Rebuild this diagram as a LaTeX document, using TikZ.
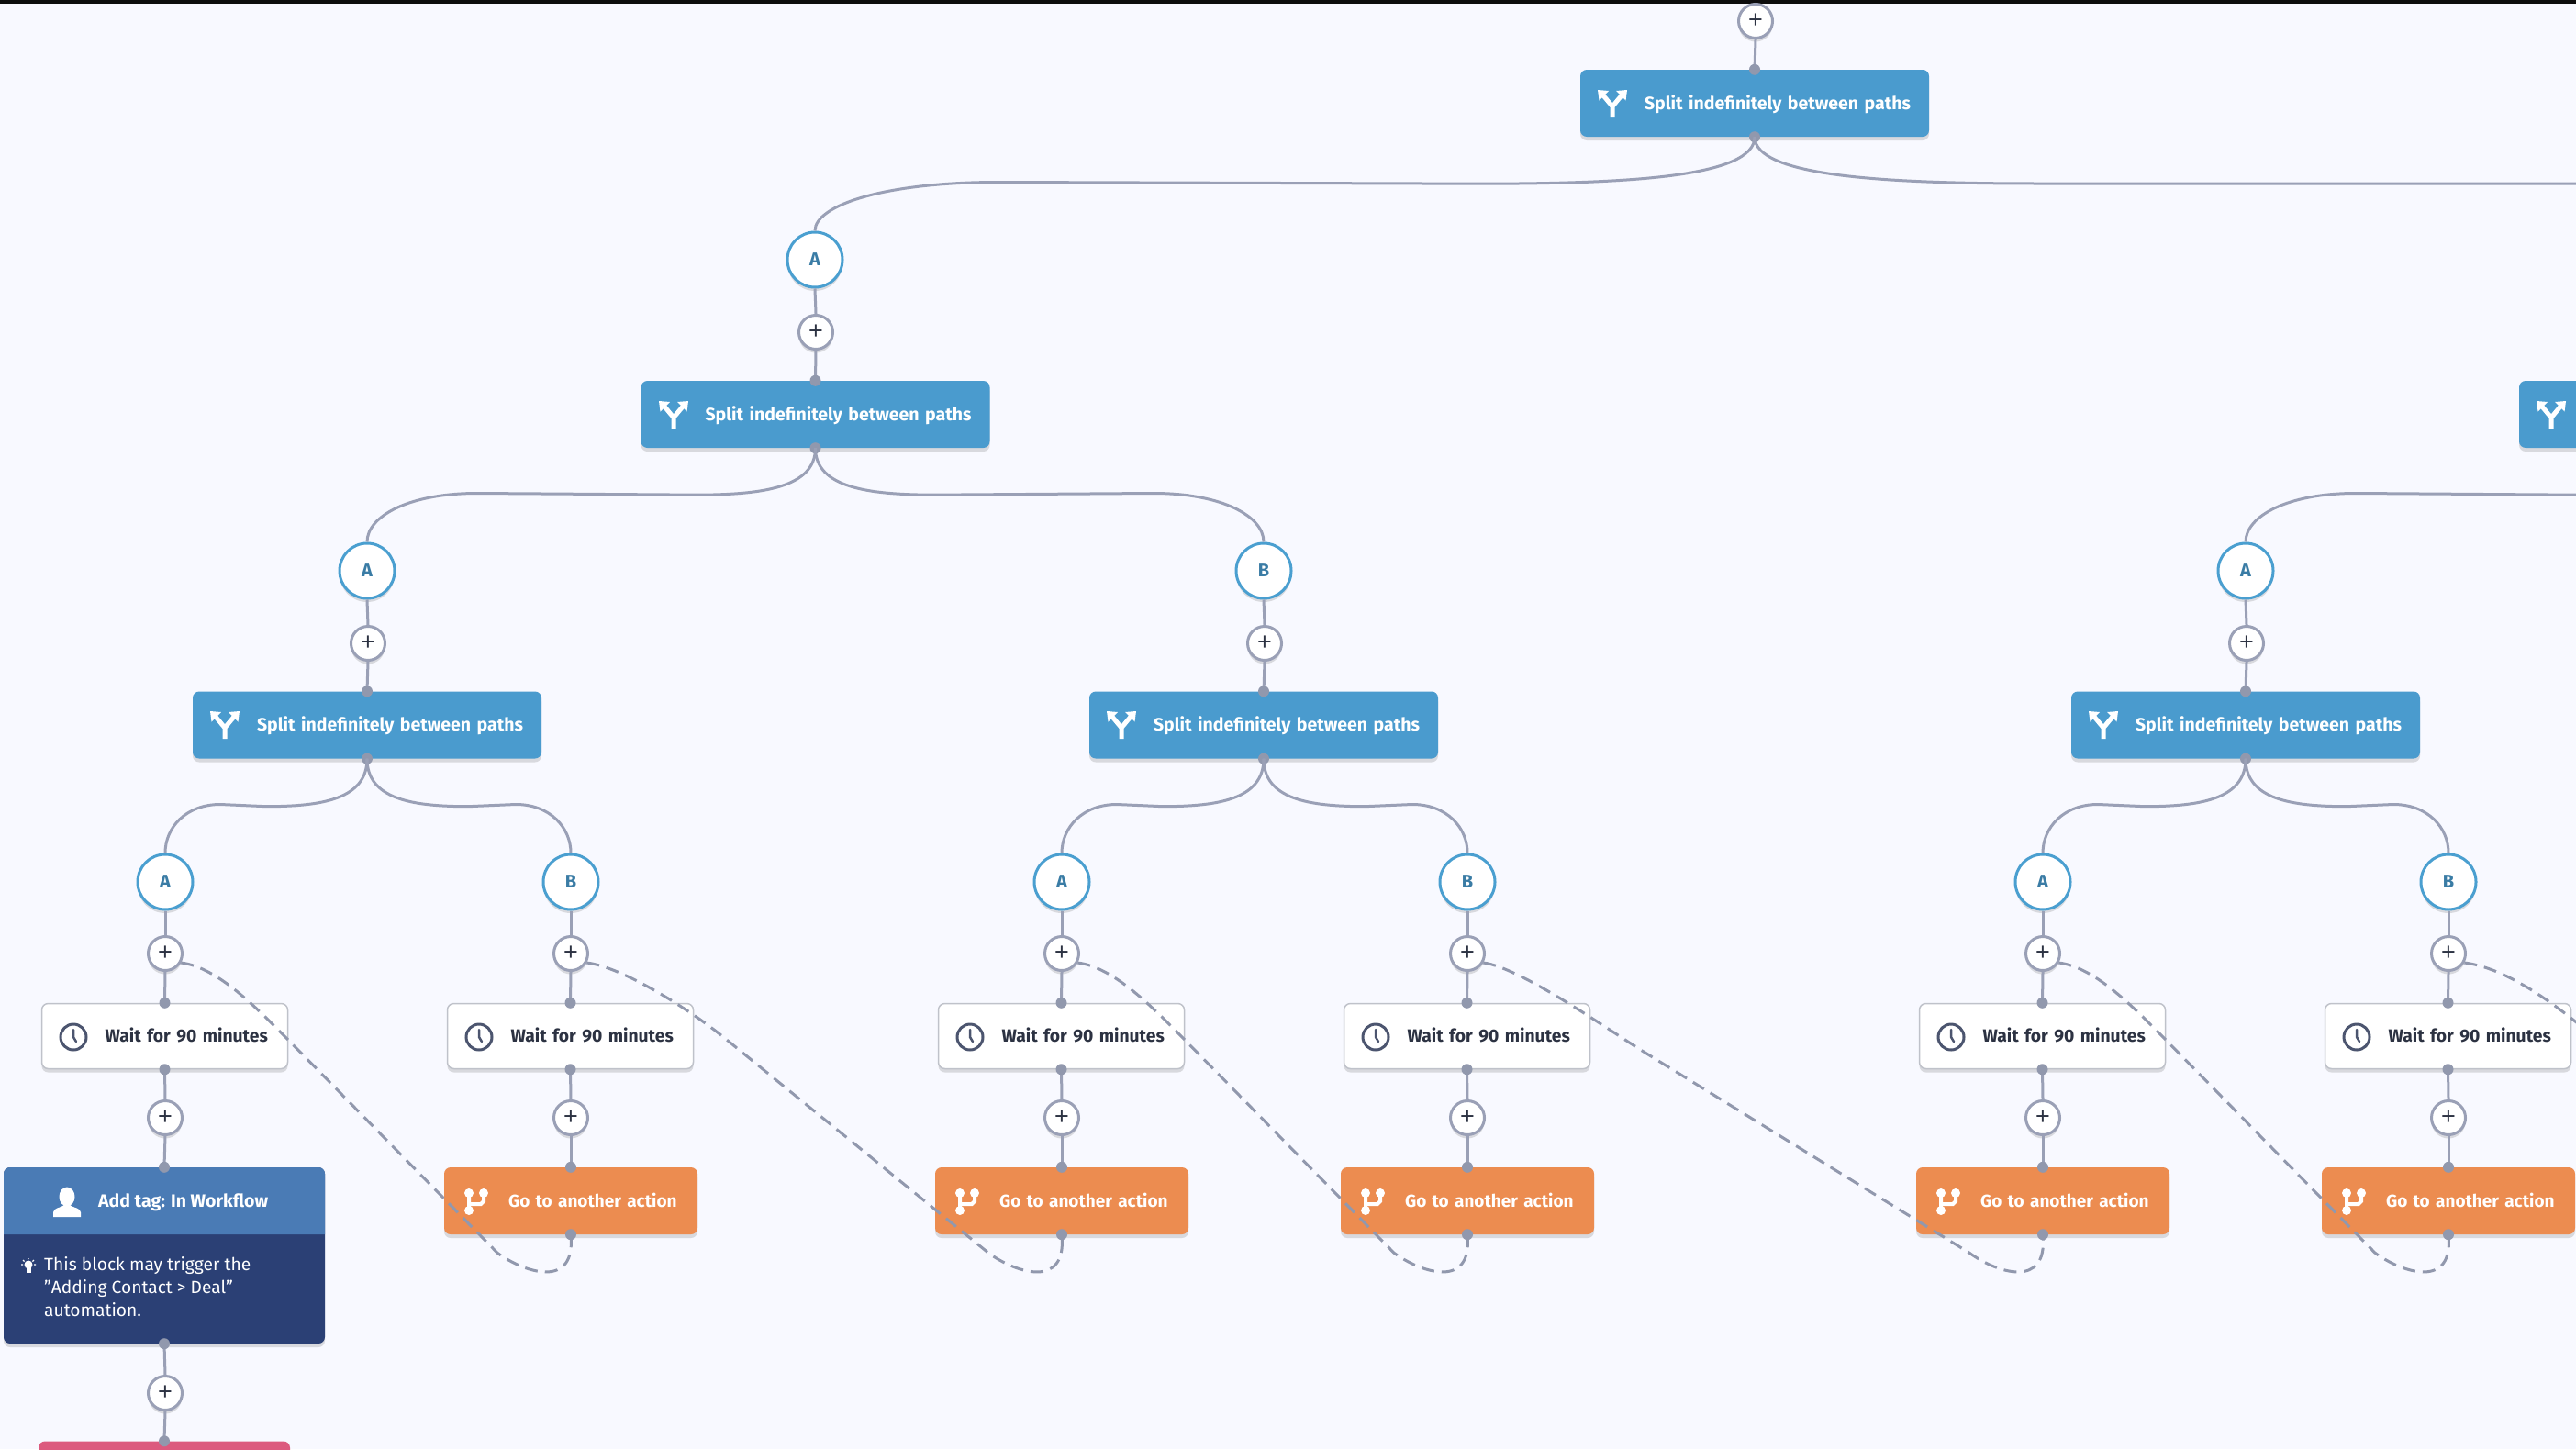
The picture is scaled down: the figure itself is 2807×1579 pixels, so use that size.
\documentclass[tikz,border=0pt]{standalone}
\usepackage{fontspec}
\setmainfont{Fira Sans}
\newfontfamily\plusfont{Liberation Sans}
\usetikzlibrary{shadows,calc}
\definecolor{bgc}{HTML}{F8F9FF}
\definecolor{linec}{HTML}{9AA0B6}
\definecolor{dotc}{HTML}{9198AD}
\definecolor{splitc}{HTML}{4A9BCE}
\definecolor{orangec}{HTML}{EC8C50}
\definecolor{hdrc}{HTML}{4A7BB5}
\definecolor{bodyc}{HTML}{2B4075}
\definecolor{pinkc}{HTML}{DC5A7E}
\definecolor{ringc}{HTML}{4A9FD0}
\definecolor{letterc}{HTML}{3A7CA5}
\definecolor{inkc}{HTML}{2C3242}
\definecolor{iconc}{HTML}{4C556F}
\definecolor{edgec}{HTML}{BFC2CA}
\tikzset{
  softshadow/.style={drop shadow={shadow xshift=0pt,shadow yshift=-4pt,opacity=.18,fill=black!70}},
  boxbase/.style={rectangle,rounded corners=7pt,minimum height=73pt,inner xsep=0pt,inner ysep=0pt,text height=17pt,text depth=4pt,align=left,softshadow,font=\fontsize{19.5}{24}\selectfont\bfseries},
  splitbox/.style={boxbase,fill=splitc,text=white,text width=380pt,execute at begin node={\hspace*{70pt}}},
  waitbox/.style={boxbase,minimum height=71pt,fill=white,draw=edgec,line width=1.5pt,text=inkc,text width=268pt,font=\fontsize{19.3}{24}\selectfont\bfseries,execute at begin node={\hspace*{69pt}}},
  orangebox/.style={boxbase,fill=orangec,text=white,text width=276pt,font=\fontsize{19}{24}\selectfont\bfseries,execute at begin node={\hspace*{70pt}}},
  tagbox/.style={rectangle,rounded corners=7pt,minimum width=350pt,minimum height=192pt,fill=bodyc,inner sep=0pt,softshadow},
  pinkbox/.style={rectangle,rounded corners=7pt,minimum width=274pt,minimum height=73pt,fill=pinkc,inner sep=0pt},
  pathring/.style={circle,minimum size=60pt,inner sep=0pt,fill=white,draw=ringc,line width=3pt,text=letterc,softshadow,font=\fontsize{20}{24}\selectfont\bfseries},
  plusring/.style={circle,minimum size=37pt,inner sep=0pt,fill=white,draw=linec,line width=3pt,text=inkc,softshadow,font=\plusfont\fontsize{27}{27}\selectfont},
  conn/.style={draw=linec,line width=3pt},
  dashline/.style={draw=dotc,line width=3pt,dash pattern=on 14pt off 8pt},
  tiptext/.style={inner sep=0pt,text=white,align=left,anchor=north west,font=\fontsize{19.2}{25.4}\selectfont},
  icontitle/.style={inner sep=0pt,text=white,anchor=west,font=\fontsize{19.5}{24}\selectfont\bfseries},
  spliticon/.pic={
    \draw[white,line width=5pt] (0,15) -- (0,3) (-10,-9) -- (0,3) -- (10,-9);
    \fill[white] (-16,-15) -- (-4,-14) -- (-14.5,-3.5) -- cycle;
    \fill[white] (16,-15) -- (4,-14) -- (14.5,-3.5) -- cycle;
  },
  clockicon/.pic={
    \draw[iconc,line width=3pt] (0,0) circle[radius=14pt];
    \draw[iconc,line width=2.5pt,line cap=round] (0,-8) -- (0,0) -- (3,5);
  },
  forkicon/.pic={
    \draw[white,line width=4pt] (-7,-8) -- (-7,11) (9,-8) -- (9,1) -- (6,4) -- (-7,4);
    \fill[white] (-7,-8) circle[radius=5pt] (9,-8) circle[radius=5pt] (-7,11) circle[radius=5pt];
  },
  personicon/.pic={
    \fill[white] (0,-6) ellipse[x radius=8.5pt,y radius=10.5pt];
    \fill[white] (-15,16) -- (-15,11) .. controls (-15,6) and (-6,6) .. (-3,3) -- (3,3) .. controls (6,6) and (15,6) .. (15,11) -- (15,16) -- cycle;
  },
  bulbicon/.pic={
    \fill[white] (0,-1) circle[radius=4.5pt];
    \fill[white] (-2.5,2) rectangle (2.5,8);
    \draw[white,line width=1.2pt] (-8,-1) -- (-6,-1) (8,-1) -- (6,-1) (0,-8) -- (0,-7) (-6,-6) -- (-4.5,-4.5) (6,-6) -- (4.5,-4.5);
  }
}
% branch from a split box to a path ring: #3 drop to the run, #4 signed length of upper bend, #5 sign, #6 width of lower bend
\newcommand{\branchline}[6]{%
  \coordinate (bu#2) at ($(#1.south)+(#4,0)$);
  \coordinate (bv#2) at (#2.north);
  \draw[conn] (#1.south) .. controls +(0,{0.85*(#3)}) and +({-0.55*(#4)},0) .. ($(bu#2)+(0,#3)$)
     -- ($(bv#2)+({-(#5)*(#6)},-53)$) .. controls +({(#5)*0.62*(#6)},0) and +(0,-28) .. (#2.north);
}
\newcommand{\tip}[1]{\fill[dotc] (#1) circle[radius=6pt];}
\newcommand{\leafcol}[3]{%
  \node[pathring] (a#1) at (#2,961) {#3};
  \node[plusring] (p#1) at (#2,1039) {+};
  \node[waitbox] (w#1) at (#2-0.5,1129) {Wait for 90 minutes};
  \pic at (#2-100,1130) {clockicon};
  \node[plusring] (q#1) at (#2,1218) {+};
  \draw[conn] (a#1.south) -- (p#1.north);
  \draw[conn] (p#1.south) -- (w#1.north);
  \draw[conn] (w#1.south) -- (q#1.north);
  \tip{w#1.north}\tip{w#1.south}
}
\newcommand{\orangecol}[2]{%
  \node[orangebox] (g#1) at (#2,1308.5) {Go to another action};
  \pic at (#2-104,1308) {forkicon};
  \draw[conn] (q#1.south) -- (g#1.north);
  \tip{g#1.north}\tip{g#1.south}
}
\newcommand{\jump}[6]{%
  \coordinate (ja#1) at ($(p#1)+(#3,#4)$);
  \coordinate (jb#1) at ($(g#2.south)+(-80,20)$);
  \draw[dashline] (p#1.-30) .. controls +(40,5) and +(#5,#6) .. (ja#1) -- (jb#1) .. controls +(30,22) and +(6,60) .. (g#2.south);
}
\begin{document}
\begin{tikzpicture}[x=1pt,y=-1pt]
\useasboundingbox (0,0) rectangle (2807,1579);
\clip (0,0) rectangle (2807,1579);
\fill[bgc] (0,0) rectangle (2807,1579);
\fill[black!95] (0,0) rectangle (2807,4);

% top
\node[plusring] (p0) at (1913,23) {+};
\node[splitbox] (s1) at (1912,112.5) {Split indefinitely between paths};
\pic at (1757,113) {spliticon};
\draw[conn] (p0.south) -- (s1.north);
\tip{s1.north}\tip{s1.south}

% second level
\node[pathring] (r2a) at (888,283) {A};
\node[plusring] (p2a) at (889,362) {+};
\node[splitbox] (s2a) at (888.5,451.5) {Split indefinitely between paths};
\pic at (734,452) {spliticon};
\draw[conn] (r2a.south) -- (p2a.north);
\draw[conn] (p2a.south) -- (s2a.north);
\tip{s2a.north}\tip{s2a.south}
\branchline{s1}{r2a}{51}{-300}{-1}{200}
\coordinate (offtop) at (2807,200);
\coordinate (offtopa) at (2220,200);
\draw[conn] (s1.south) .. controls +(0,43) and +(-165,0) .. (offtopa) -- (offtop);

\node[splitbox] (s2b) at (2935,451.5) {};
\pic at (2780,452) {spliticon};
\tip{s2b.south}

% third level
\foreach \nm/\cx/\lt in {l/400/A,m/1377/B,n/2447/A}{
  \node[pathring] (r3\nm) at (\cx,622) {\lt};
  \node[plusring] (p3\nm) at (\cx+1,701) {+};
  \node[splitbox] (s3\nm) at (\cx,790) {Split indefinitely between paths};
  \pic at (\cx-155,790) {spliticon};
  \draw[conn] (r3\nm.south) -- (p3\nm.north);
  \draw[conn] (p3\nm.south) -- (s3\nm.north);
  \tip{s3\nm.north}\tip{s3\nm.south}
}
\branchline{s2a}{r3l}{51}{-130}{-1}{120}
\branchline{s2a}{r3m}{51}{130}{1}{120}
\branchline{s2b}{r3n}{51}{-130}{-1}{120}

% leaves
\leafcol{1}{180}{A}
\leafcol{2}{622}{B}
\leafcol{3}{1157}{A}
\leafcol{4}{1599}{B}
\leafcol{5}{2226}{A}
\leafcol{6}{2668}{B}
\branchline{s3l}{a1}{52}{-110}{-1}{60}
\branchline{s3l}{a2}{52}{110}{1}{60}
\branchline{s3m}{a3}{52}{-110}{-1}{60}
\branchline{s3m}{a4}{52}{110}{1}{60}
\branchline{s3n}{a5}{52}{-110}{-1}{60}
\branchline{s3n}{a6}{52}{110}{1}{60}

\orangecol{2}{622}
\orangecol{3}{1157}
\orangecol{4}{1599}
\orangecol{5}{2226}
\orangecol{6}{2668}

% tag block
\node[tagbox] (tag) at (179,1368) {};
\fill[hdrc] (4,1345) [rounded corners=7pt] -- (4,1272) -- (354,1272) [sharp corners] -- (354,1345) -- cycle;
\pic at (73,1310) {personicon};
\node[icontitle] (tagtitle) at (107,1310.5) {Add tag: In Workflow};
\pic at (31,1379) {bulbicon};
\node[tiptext] (tagtext) at (48,1369) {This block may trigger the\\"\underline{Adding Contact > Deal}"\\automation.};
\node[plusring] (q1b) at (180,1518) {+};
\node[pinkbox] (pink) at (179,1607) {};
\draw[conn] (q1.south) -- (tag.north);
\draw[conn] (tag.south) -- (q1b.north);
\draw[conn] (q1b.south) -- (pink.north);
\tip{tag.north}\tip{tag.south}\tip{pink.north}

% dashed jumps
\jump{1}{2}{132}{92}{-32}{-32}
\jump{2}{3}{165}{90}{-36}{-29}
\jump{3}{4}{132}{92}{-32}{-32}
\jump{4}{5}{192}{107}{-40}{-25}
\jump{5}{6}{132}{92}{-32}{-32}
\coordinate (offjump) at (2860,1160);
\draw[dashline] (p6.-30) .. controls +(40,5) and (2780,1085) .. (offjump);
\end{tikzpicture}
\end{document}
